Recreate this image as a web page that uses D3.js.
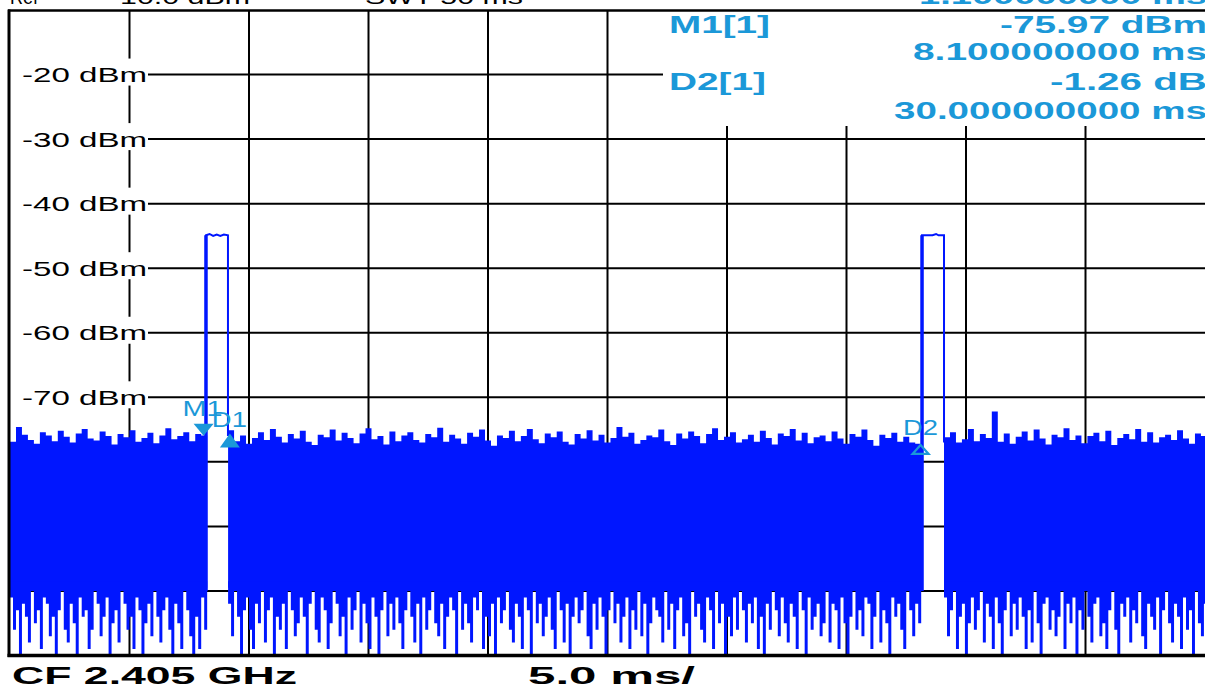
<!DOCTYPE html>
<html>
<head>
<meta charset="utf-8">
<script src="https://cdn.jsdelivr.net/npm/d3@7"></script>
<style>
    html, body { margin: 0; padding: 0; background: #fff; overflow: hidden; }
    svg { display: block; }
</style>
</head>
<body>
<svg id="chart" width="1205" height="688"></svg>
<script>
// sweep settings
const SPAN_MS = 50;
const REF_DBM = -10;
const BOTTOM_DBM = -110;
const levelTicks = [-20, -30, -40, -50, -60, -70, -80, -90, -100];
const labelTicks = [-20, -30, -40, -50, -60, -70];
const timeTicks = [5, 10, 15, 20, 25, 30, 35, 40, 45];

// noise floor, three stretches between the two bursts
const segStart = [0, 9.125, 39.08];
const TOP_STEP = 0.25;     // ms per peak value
const BOT_STEP = 0.125;    // ms per dip value

const topA = [-76.9,-74.6,-75.8,-76.6,-77.2,-75.4,-75.9,-76.8,-75.2,-76.1,
    -77.0,-75.6,-74.9,-76.4,-76.7,-75.3,-76.0,-77.3,-75.7,-76.2,
    -75.1,-76.9,-76.3,-75.5,-77.1,-75.9,-74.8,-76.5,-76.0,-75.4,
    -76.8,-75.7,-75.9];
const topB = [-75.1,-76.8,-75.9,-77.2,-76.3,-75.4,-76.6,-74.9,-76.1,-77.0,
    -75.7,-76.4,-75.2,-76.9,-77.4,-75.8,-76.2,-75.0,-76.7,-75.5,
    -76.3,-77.1,-75.6,-74.8,-76.5,-76.0,-77.3,-75.3,-76.8,-75.9,
    -75.4,-76.6,-77.0,-75.7,-76.2,-74.7,-76.9,-75.8,-76.4,-77.2,
    -75.5,-76.1,-75.0,-76.7,-77.5,-75.9,-76.3,-75.2,-76.8,-76.0,
    -74.9,-76.5,-77.1,-75.6,-76.2,-75.3,-76.9,-77.3,-75.7,-76.4,
    -75.1,-76.7,-75.8,-77.0,-76.3,-74.6,-76.1,-75.5,-77.2,-76.6,
    -75.9,-76.2,-75.0,-76.8,-77.4,-75.6,-76.4,-75.3,-76.0,-77.1,
    -75.7,-74.8,-76.6,-76.1,-75.4,-77.0,-76.5,-75.8,-76.9,-75.2,
    -76.3,-77.3,-75.6,-76.0,-74.9,-76.7,-75.5,-77.1,-76.2,-75.9,
    -76.8,-75.3,-76.4,-77.2,-75.7,-76.1,-75.0,-76.6,-77.5,-75.8,
    -76.3,-75.5,-76.9,-76.1,-77.0,-77.2];
const topC = [-76.2,-75.4,-77.0,-76.5,-74.9,-76.8,-75.7,-76.3,-72.2,-76.9,
    -75.6,-77.2,-76.1,-75.3,-76.7,-75.0,-76.4,-77.3,-75.8,-76.2,
    -74.8,-76.6,-75.9,-77.1,-76.0,-75.5,-76.8,-75.2,-77.4,-76.3,
    -75.7,-76.5,-74.9,-76.9,-75.4,-77.0,-76.2,-75.8,-76.6,-75.1,
    -76.4,-77.2,-75.6,-76.0];

const botA = [-101,-106,-103,-110,-102,-104,-108,-100,-105,-103,
    -109,-101,-102,-107,-104,-110,-103,-100,-106,-108,
    -102,-105,-110,-101,-104,-103,-109,-106,-100,-102,
    -107,-104,-101,-110,-105,-103,-108,-100,-102,-106,
    -104,-109,-101,-103,-110,-105,-102,-107,-100,-104,
    -108,-103,-101,-106,-110,-102,-105,-109,-100,-103,
    -107,-110,-104,-109,-101,-106];
const botB = [-102,-107,-100,-104,-110,-103,-101,-106,-109,-102,
    -105,-100,-108,-103,-101,-110,-104,-106,-102,-109,
    -100,-103,-107,-105,-101,-104,-110,-102,-100,-106,
    -108,-101,-103,-109,-105,-100,-102,-107,-104,-110,
    -101,-106,-103,-100,-108,-102,-105,-109,-101,-104,
    -110,-103,-100,-107,-102,-106,-101,-105,-109,-103,
    -100,-104,-108,-102,-110,-101,-106,-103,-100,-105,
    -107,-102,-109,-104,-101,-103,-110,-100,-106,-102,
    -105,-108,-101,-103,-100,-109,-104,-107,-102,-110,
    -101,-105,-103,-100,-106,-108,-102,-104,-109,-101,
    -103,-110,-100,-105,-102,-107,-104,-101,-106,-109,
    -100,-103,-108,-102,-110,-104,-101,-105,-103,-100,
    -107,-109,-102,-106,-101,-104,-110,-103,-100,-105,
    -102,-108,-104,-101,-109,-103,-106,-100,-107,-102,
    -110,-105,-101,-103,-104,-108,-100,-106,-102,-109,
    -103,-101,-107,-105,-110,-100,-104,-102,-106,-108,
    -101,-103,-109,-100,-105,-102,-110,-104,-107,-101,
    -106,-100,-103,-108,-102,-105,-101,-109,-104,-110,
    -102,-106,-100,-103,-107,-101,-105,-108,-102,-104,
    -109,-100,-103,-110,-101,-106,-104,-102,-107,-105,
    -100,-108,-102,-103,-109,-101,-105,-110,-104,-100,
    -106,-103,-107,-101,-102,-109,-104,-100,-108,-103,
    -105,-110,-101,-104,-102,-106,-109,-100,-103,-107,
    -102,-105];
const botC = [-101,-107,-103,-100,-109,-104,-102,-110,-105,-101,
    -106,-103,-100,-108,-102,-104,-109,-101,-105,-110,
    -103,-100,-107,-102,-106,-101,-104,-109,-103,-108,
    -100,-105,-110,-102,-101,-106,-103,-107,-104,-100,
    -109,-102,-105,-101,-110,-103,-106,-100,-104,-108,
    -102,-101,-107,-105,-109,-103,-100,-106,-110,-102,
    -104,-101,-108,-103,-105,-100,-107,-109,-102,-104,
    -106,-101,-110,-103,-100,-105,-108,-102,-104,-109,
    -101,-106,-103,-110,-100,-105,-107,-102];

// the two bursts: [ms, dBm]
const pulse1 = [[8.2, -100], [8.2, -44.9], [8.35, -44.7], [8.5, -45.0], [8.65, -44.8], [8.8, -45.0], [8.95, -44.8], [9.12, -44.9], [9.12, -76.0]];
const pulse2 = [[38.16, -100], [38.16, -44.9], [38.4, -44.9], [38.6, -44.9], [38.75, -44.7], [38.85, -44.9], [39.08, -44.9], [39.08, -77.0]];

// markers
const markerNames = ['M1', 'D1', 'D2'];
const markerTime = [8.1, 9.2, 38.1];
const markerLevel = [-75.97, -75.6, -77.23];

// ---------------------------------------------------------------
const TRACE = '#0016ff';
const MARK = '#1b98d8';
const FONT = '"Liberation Sans", Arial, sans-serif';

const svg = d3.select('#chart');
const x = d3.scaleLinear().domain([0, SPAN_MS]).range([10, 1205]);
const y = d3.scaleLinear().domain([BOTTOM_DBM, REF_DBM]).range([655.5, 10]);

function text(g, str, x0, base, len, opts = {}) {
    return g.append('text')
        .attr('x', x0).attr('y', base)
        .attr('textLength', len)
        .attr('lengthAdjust', 'spacingAndGlyphs')
        .style('font-family', FONT)
        .style('font-size', (opts.size || 21) + 'px')
        .style('font-weight', opts.bold ? 'bold' : 'normal')
        .style('fill', opts.color || '#000')
        .text(str);
}

// grid
const grid = svg.append('g').attr('stroke', '#000').attr('stroke-width', 2);

levelTicks.forEach(v => {
    const labelled = labelTicks.includes(v);
    grid.append('line')
        .attr('x1', labelled ? 148 : x(0)).attr('x2', v === -20 ? 663 : x(SPAN_MS))
        .attr('y1', y(v)).attr('y2', y(v));
});

timeTicks.forEach((t, i) => {
    const top = t >= 30 ? 126 : y(REF_DBM);
    if (i === 0) {
        // first division line is broken by the level labels
        let from = top;
        labelTicks.forEach(v => {
            grid.append('line').attr('x1', x(t)).attr('x2', x(t))
                .attr('y1', from).attr('y2', y(v) - 16);
            from = y(v) + 11;
        });
        grid.append('line').attr('x1', x(t)).attr('x2', x(t))
            .attr('y1', from).attr('y2', y(BOTTOM_DBM));
    } else {
        grid.append('line').attr('x1', x(t)).attr('x2', x(t))
            .attr('y1', top).attr('y2', y(BOTTOM_DBM));
    }
});

// level labels
const labels = svg.append('g');
labelTicks.forEach(v => {
    text(labels, `${v} dBm`, 22, y(v) + 7.5, 125, { size: 21 });
});

// trace
svg.append('clipPath').attr('id', 'plot')
    .append('rect').attr('x', x(0)).attr('y', y(REF_DBM))
    .attr('width', x(SPAN_MS) - x(0)).attr('height', y(BOTTOM_DBM) - y(REF_DBM));

const trace = svg.append('g').attr('clip-path', 'url(#plot)');

function stepPoints(values, start, step) {
    const pts = values.map((v, i) => [start + i * step, v]);
    pts.push([start + values.length * step, values[values.length - 1]]);
    return pts;
}

const upper = d3.area().curve(d3.curveStepAfter)
    .x(d => x(d[0])).y0(y(-99.5)).y1(d => y(d[1]));
const lower = d3.area().curve(d3.curveStepAfter)
    .x(d => x(d[0])).y0(y(-98.5)).y1(d => y(d[1]));

[[topA, botA], [topB, botB], [topC, botC]].forEach(([tops, bots], i) => {
    trace.append('path').attr('d', upper(stepPoints(tops, segStart[i], TOP_STEP)))
        .attr('fill', TRACE);
    trace.append('path').attr('d', lower(stepPoints(bots, segStart[i], BOT_STEP)))
        .attr('fill', TRACE);
});

const burst = d3.line().x(d => x(d[0])).y(d => y(d[1]));
[pulse1, pulse2].forEach(p => {
    trace.append('path').attr('d', burst(p))
        .attr('fill', 'none').attr('stroke', TRACE).attr('stroke-width', 2);
    trace.append('path').attr('d', burst(p.slice(0, 2)))
        .attr('fill', 'none').attr('stroke', TRACE).attr('stroke-width', 3.5);
});

// frame
const frame = svg.append('g').attr('stroke', '#000');
frame.append('line').attr('x1', 8).attr('x2', 1205).attr('y1', 10.5).attr('y2', 10.5).attr('stroke-width', 2.5);
frame.append('line').attr('x1', 9).attr('x2', 9).attr('y1', 9.5).attr('y2', 657).attr('stroke-width', 3);
frame.append('line').attr('x1', 7.5).attr('x2', 1205).attr('y1', 655.5).attr('y2', 655.5).attr('stroke-width', 3.5);

// marker symbols
const markG = svg.append('g');
const labelDx = [-21, -18, -17.5];
const labelDy = [-19.5, -6.5, -9];
markerNames.forEach((name, i) => {
    const mx = x(markerTime[i]);
    const my = y(markerLevel[i]);
    if (name === 'M1') {
        markG.append('path').attr('d', `M${mx - 10},${my - 12}L${mx + 10},${my - 12}L${mx},${my}Z`).attr('fill', MARK);
    } else if (name === 'D1') {
        markG.append('path').attr('d', `M${mx},${my}L${mx + 10},${my + 14}L${mx - 10},${my + 14}Z`).attr('fill', MARK);
    } else {
        markG.append('path').attr('d', `M${mx},${my + 1}L${mx + 8},${my + 10}L${mx - 8},${my + 10}Z`)
            .attr('fill', 'none').attr('stroke', MARK).attr('stroke-width', 2.2);
    }
    text(markG, name, mx + labelDx[i], my + labelDy[i], name === 'M1' ? 40 : 35, { size: 22, color: MARK });
});

// marker table (top right)
const fmtMs = t => `${t.toFixed(9)} ms`;
const table = svg.append('g');
const d1dt = markerTime[1] - markerTime[0];
const d2dt = markerTime[2] - markerTime[0];
const d2db = markerLevel[2] - markerLevel[0];
text(table, fmtMs(d1dt), 919, 4, 288, { size: 23, bold: true, color: MARK });
text(table, 'M1[1]', 669, 33, 101, { size: 23, bold: true, color: MARK });
text(table, `${markerLevel[0].toFixed(2)} dBm`, 1000, 33, 207, { size: 23, bold: true, color: MARK });
text(table, fmtMs(markerTime[0]), 913, 60, 294, { size: 23, bold: true, color: MARK });
text(table, 'D2[1]', 669, 90, 97, { size: 23, bold: true, color: MARK });
text(table, `${d2db.toFixed(2)} dB`, 1050, 90, 157, { size: 23, bold: true, color: MARK });
text(table, fmtMs(d2dt), 894, 119, 313, { size: 23, bold: true, color: MARK });

// header / footer
const info = svg.append('g');
text(info, 'Ref', 10, 4, 28);
text(info, `${REF_DBM.toFixed(1)} dBm`, 110, 4, 140);
text(info, 'SWT 50 ms', 365, 4, 158);
text(info, 'CF 2.405 GHz', 12, 684, 285, { size: 23, bold: true });
text(info, `${(SPAN_MS / 10).toFixed(1)} ms/`, 528, 684, 167, { size: 23, bold: true });
</script>
</body>
</html>
